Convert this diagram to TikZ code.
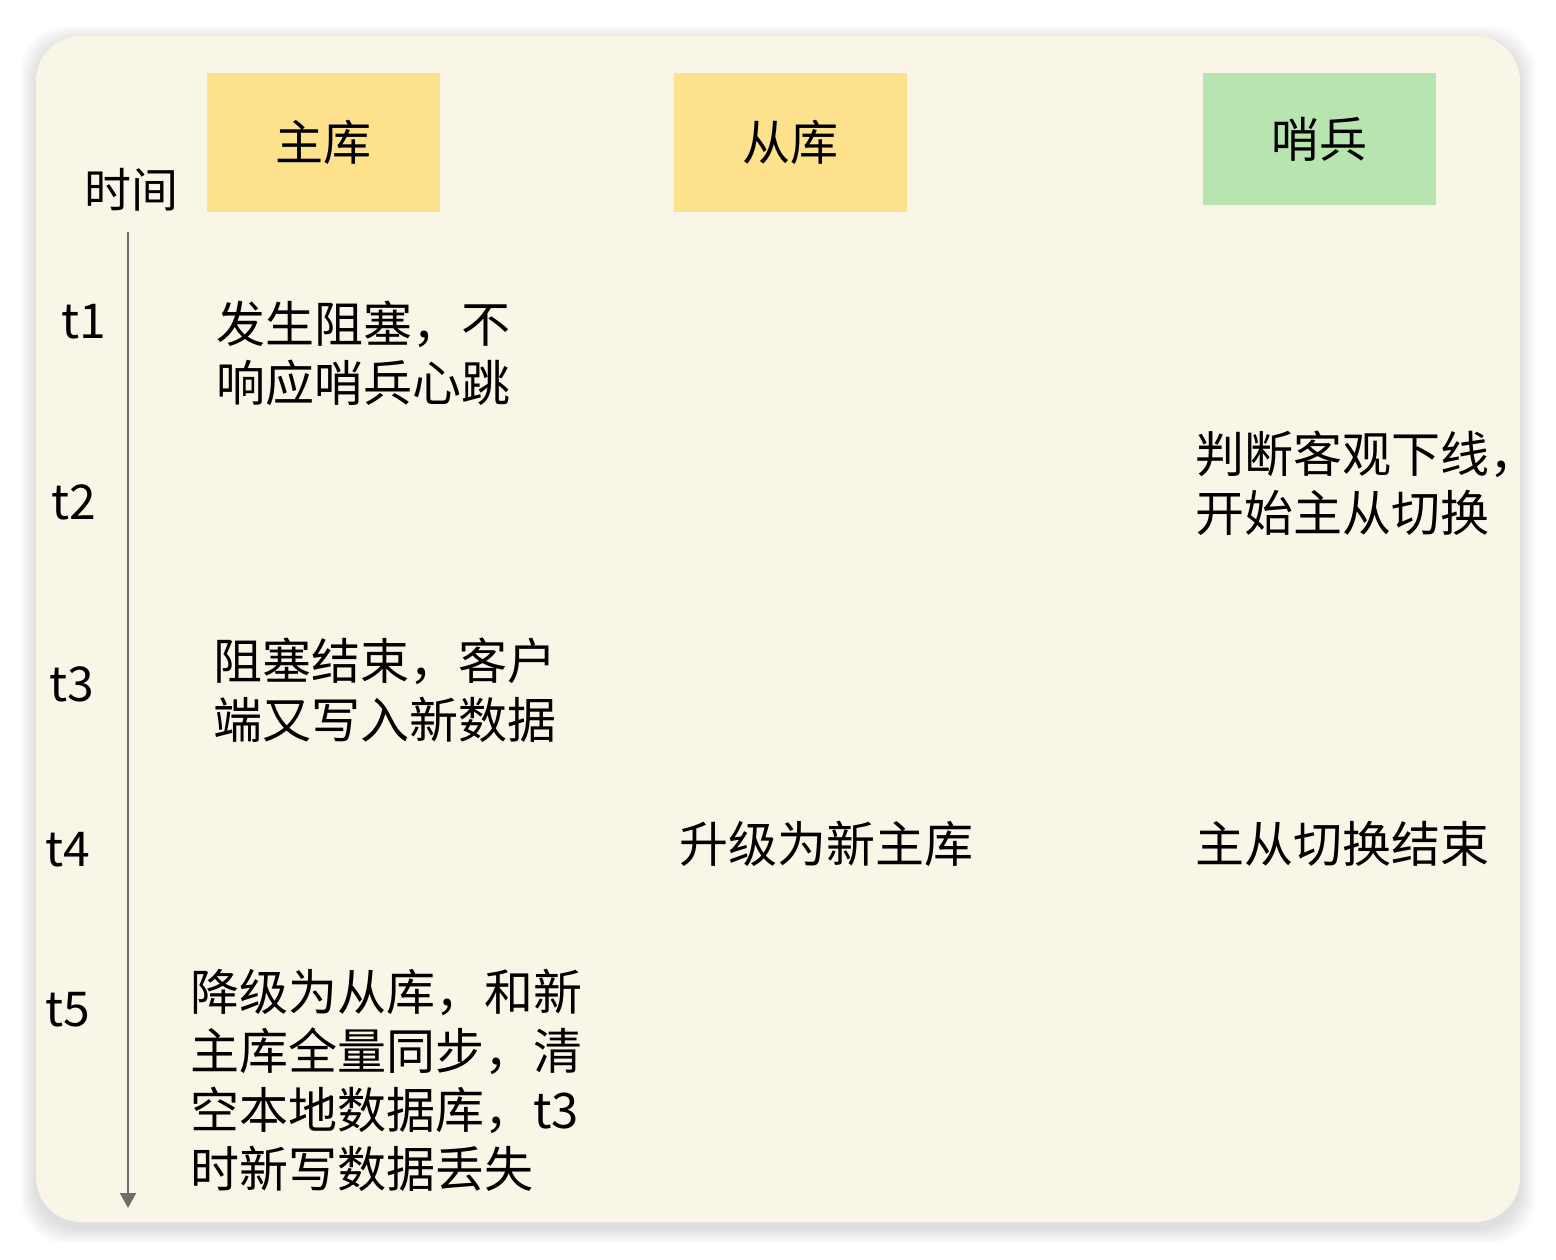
\documentclass[tikz,border=0pt]{standalone}
\usepackage{fontspec}
\setmainfont{Noto Sans CJK SC}
\usetikzlibrary{arrows.meta}
\definecolor{bgcream}{HTML}{FAF6E7}
\definecolor{hdryellow}{HTML}{FDE18C}
\definecolor{hdrgreen}{HTML}{B7E4AF}
\definecolor{axisgrey}{HTML}{6E6E6E}
\tikzset{
  hdr/.style={minimum width=233pt, inner sep=0pt, font=\fontsize{48}{59}\selectfont},
  tlabel/.style={anchor=west, inner sep=0pt, font=\fontsize{48}{58}\selectfont},
  body/.style={anchor=north west, inner sep=0pt, align=left, font=\fontsize{49}{59}\selectfont},
}
\begin{document}
\begin{tikzpicture}[x=1pt,y=-1pt]
\useasboundingbox (0,0) rectangle (1556,1260);
\fill[white] (0,0) rectangle (1556,1260);
% shadow
\foreach \i in {1,...,16}{
  \fill[black, opacity=0.009, rounded corners=45pt] ({36-\i},{36-\i+6}) rectangle ({1520+\i},{1222+\i+6});
}
\fill[bgcream, rounded corners=45pt] (36,36) rectangle (1520,1222);
% headers
\node[hdr, fill=hdryellow, minimum height=139pt] (master) at (323.5,142.5) {主库};
\node[hdr, fill=hdryellow, minimum height=139pt] (slave) at (790.5,142.5) {从库};
\node[hdr, fill=hdrgreen, minimum height=132pt] (sentinel) at (1319.5,139) {哨兵};
% time axis
\node[inner sep=0pt, font=\fontsize{47}{56}\selectfont] (time) at (131,190) {时间};
\coordinate (ts) at (128,232);
\coordinate (te) at (128,1208);
\draw[axisgrey, line width=2pt, -{Triangle[width=16pt,length=15pt]}] (ts) -- (te);
% time labels
\node[tlabel] (t1) at (61,322) {t1};
\node[tlabel] (t2) at (51,502) {t2};
\node[tlabel] (t3) at (49,684) {t3};
\node[tlabel] (t4) at (45,850) {t4};
\node[tlabel] (t5) at (45,1010) {t5};
% events
\node[body] (e1) at (216,301) {发生阻塞，不\\响应哨兵心跳};
\node[body] (e2) at (1195,431) {判断客观下线，\\开始主从切换};
\node[body] (e3) at (213,638) {阻塞结束，客户\\端又写入新数据};
\node[body] (e4) at (679,821) {升级为新主库};
\node[body] (e5) at (1195,821) {主从切换结束};
\node[body] (e6) at (190,969) {降级为从库，和新\\主库全量同步，清\\空本地数据库，t3\\时新写数据丢失};
\end{tikzpicture}
\end{document}
